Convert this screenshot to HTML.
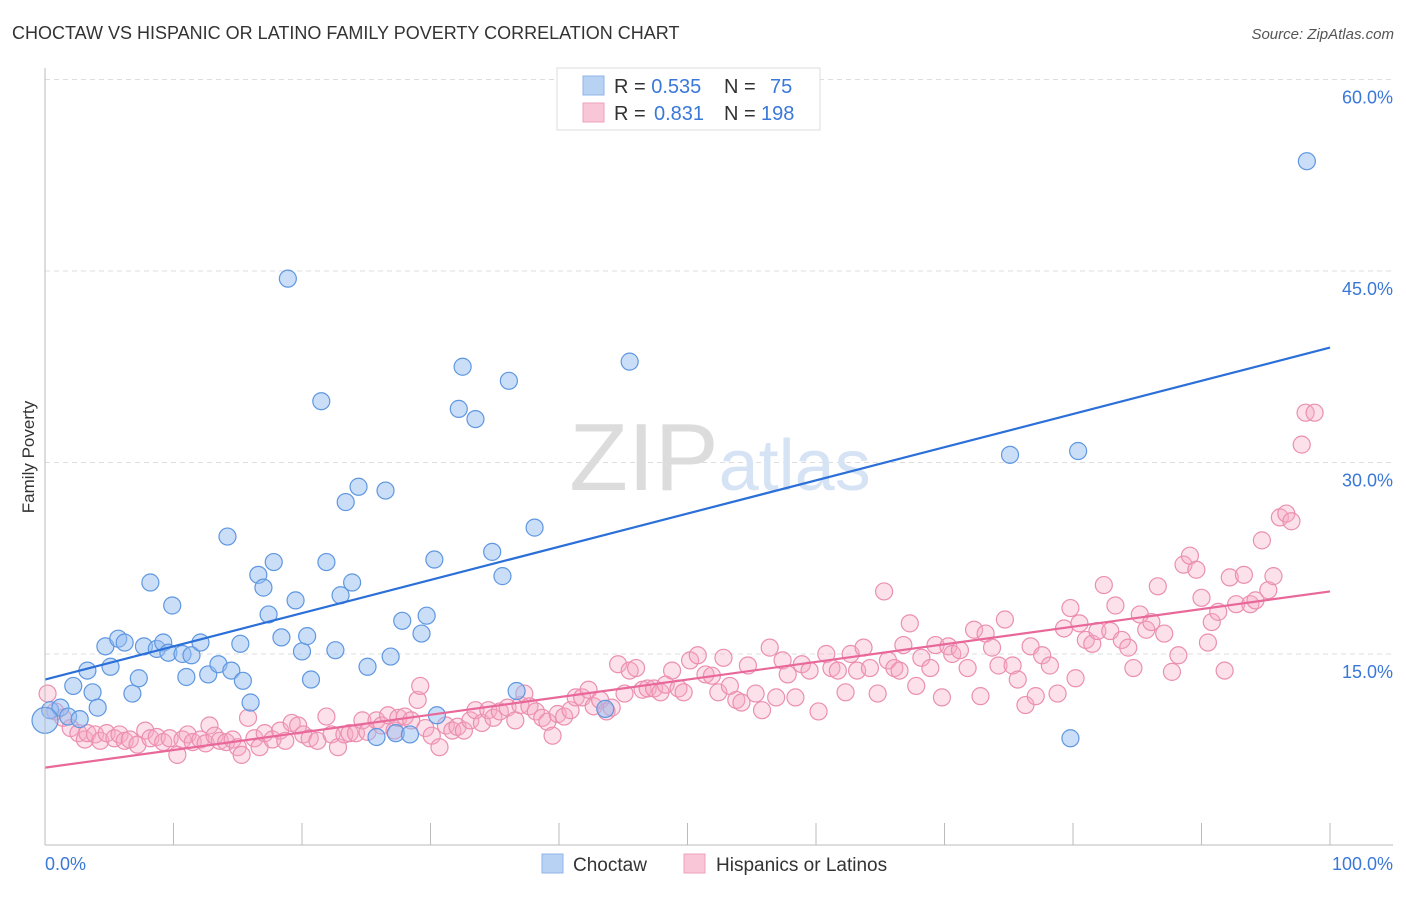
<!DOCTYPE html>
<html><head><meta charset="utf-8"><style>
body{margin:0;background:#fff;font-family:"Liberation Sans",sans-serif;}
svg text{font-family:"Liberation Sans",sans-serif;}
</style></head><body>
<svg id="chart" width="1406" height="892">
<text x="12" y="39" font-size="18" fill="#333">CHOCTAW VS HISPANIC OR LATINO FAMILY POVERTY CORRELATION CHART</text>
<text x="1394" y="39" font-size="15" fill="#555" font-style="italic" text-anchor="end">Source: ZipAtlas.com</text>
<text x="34" y="457" font-size="17" fill="#333" text-anchor="middle" transform="rotate(-90 34 457)">Family Poverty</text>
<g id="grid"></g>
<g id="yticks"></g>
<g id="xticks"></g>
<text x="720" y="490" font-size="96" fill="#e6e6e6" text-anchor="middle" font-family="Liberation Serif"><tspan fill="#dcdcdc">ZIP</tspan><tspan fill="#d5e3f5" font-family="Liberation Sans" font-size="72">atlas</tspan></text>
<g id="pink"></g>
<g id="blue"></g>
<g id="lines"></g>
<line x1="45" y1="845" x2="1393" y2="845" stroke="#bbb"/>
<line x1="45" y1="68" x2="45" y2="845" stroke="#bbb"/>
<text x="45" y="870" font-size="18" fill="#3a78d8">0.0%</text>
<text x="1393" y="870" font-size="18" fill="#3a78d8" text-anchor="end">100.0%</text>
<g>
<rect x="557" y="68" width="263" height="62" fill="#fff" stroke="#ddd"/>
<rect x="583" y="76" width="21" height="19" fill="#b8d2f4" stroke="#8fb4e8"/>
<rect x="583" y="103" width="21" height="19" fill="#f8c6d6" stroke="#eea2bc"/>
<text x="614" y="93" font-size="20" fill="#333">R = <tspan fill="#3a78d8">0.535</tspan><tspan x="724">N = </tspan><tspan x="770" fill="#3a78d8">75</tspan></text>
<text x="614" y="120" font-size="20" fill="#333">R = <tspan x="654" fill="#3a78d8">0.831</tspan><tspan x="724">N = </tspan><tspan x="761" fill="#3a78d8">198</tspan></text>
</g>
<g>
<rect x="542" y="854" width="21" height="19" fill="#b8d2f4" stroke="#8fb4e8"/>
<text x="573" y="871" font-size="19" fill="#333">Choctaw</text>
<rect x="684" y="854" width="21" height="19" fill="#f8c6d6" stroke="#eea2bc"/>
<text x="716" y="871" font-size="19" fill="#333">Hispanics or Latinos</text>
</g>
</svg>
<script>
const yTicks=[15,30,45,60];
const yTickLabels=["15.0%","30.0%","45.0%","60.0%"];
const xTicks=[0,10,20,30,40,50,60,70,80,90,100];
const blueX=[0.4,1.2,1.8,2.7,2.2,3.3,3.7,4.1,4.7,5.1,5.7,6.2,6.8,7.3,7.7,8.2,8.7,9.2,9.6,9.9,10.7,11.0,11.4,12.1,12.7,13.5,14.2,14.5,15.2,15.4,16.0,16.6,17.0,17.4,17.8,18.4,18.9,19.5,20.0,20.4,20.7,21.5,21.9,22.6,23.0,23.4,23.9,24.4,25.1,25.8,26.5,26.9,27.3,27.8,28.4,29.3,29.7,30.3,30.5,32.2,32.5,33.5,34.8,35.6,36.1,36.7,38.1,43.6,45.5,75.1,79.8,80.4,98.2,0];
const blueY=[10.6,10.8,10.1,9.9,12.5,13.7,12.0,10.8,15.6,14.0,16.2,15.9,11.9,13.1,15.6,20.6,15.4,15.9,15.1,18.8,15.0,13.2,14.9,15.9,13.4,14.2,24.2,13.7,15.8,12.9,11.2,21.2,20.2,18.1,22.2,16.3,44.4,19.2,15.2,16.4,13.0,34.8,22.2,15.3,19.6,26.9,20.6,28.1,14.0,8.5,27.8,14.8,8.8,17.6,8.7,16.6,18.0,22.4,10.2,34.2,37.5,33.4,23.0,21.1,36.4,12.1,24.9,10.7,37.9,30.6,8.4,30.9,53.6,9.8];
const pinkX=[0.2,0.8,1.4,2.0,2.6,3.1,3.3,3.9,4.3,4.8,5.4,5.8,6.2,6.6,7.2,7.8,8.2,8.7,9.2,9.7,10.3,10.7,11.1,11.5,12.1,12.5,12.8,13.2,13.6,14.1,14.6,15.0,15.3,15.8,16.3,16.7,17.1,17.7,18.3,18.7,19.2,19.7,20.1,20.6,21.2,21.9,22.3,22.8,23.3,23.7,24.2,24.7,25.1,25.8,26.2,26.7,27.2,27.5,28.0,28.5,29.0,29.2,29.6,30.1,30.7,31.2,31.7,32.1,32.6,33.1,33.5,34.0,34.5,34.9,35.4,36.0,36.6,37.0,37.3,37.7,38.2,38.7,39.1,39.5,39.9,40.4,40.9,41.3,41.8,42.3,42.7,43.2,43.7,44.1,44.6,45.1,45.5,46.0,46.5,46.9,47.4,47.9,48.3,48.8,49.3,49.7,50.2,50.8,51.4,51.9,52.4,52.8,53.3,53.8,54.2,54.7,55.3,55.8,56.4,56.9,57.4,57.8,58.4,58.9,59.5,60.2,60.8,61.2,61.7,62.3,62.7,63.2,63.7,64.2,64.8,65.3,65.6,66.1,66.5,66.8,67.3,67.8,68.2,68.9,69.3,69.8,70.3,70.6,71.2,71.8,72.3,72.8,73.2,73.7,74.2,74.7,75.3,75.7,76.3,76.7,77.1,77.6,78.2,78.8,79.3,79.8,80.2,80.5,81.0,81.5,81.9,82.4,82.9,83.3,83.8,84.3,84.7,85.2,85.7,86.1,86.6,87.1,87.7,88.2,88.6,89.1,89.6,90.0,90.5,90.8,91.3,91.8,92.2,92.7,93.3,93.8,94.2,94.7,95.2,95.6,96.1,96.6,97.0,97.8,98.1,98.8];
const pinkY=[11.9,10.5,10.0,9.2,8.8,8.3,8.8,8.7,8.2,8.8,8.4,8.7,8.2,8.3,7.9,9.0,8.4,8.5,8.1,8.4,7.1,8.3,8.7,8.1,8.3,8.0,9.4,8.6,8.2,8.1,8.3,7.7,7.1,10.0,8.4,7.7,8.8,8.3,9.0,8.2,9.6,9.4,8.7,8.4,8.2,10.1,8.7,7.7,8.7,8.8,8.8,9.8,8.9,9.8,9.4,10.2,9.0,10.0,10.1,9.8,11.4,12.5,9.2,8.6,7.7,9.4,9.0,9.3,9.0,9.8,10.6,9.6,10.6,10.0,10.5,10.8,9.8,11.0,11.9,10.9,10.5,10.0,9.7,8.6,10.3,10.1,10.6,11.6,11.6,12.2,10.9,11.4,10.5,10.8,14.2,11.9,13.7,13.9,12.2,12.3,12.3,12.0,12.6,13.7,12.3,12.0,14.5,14.9,13.4,13.3,12.0,14.7,12.5,11.4,11.2,14.1,11.9,10.6,15.5,11.6,14.5,13.4,11.6,14.2,13.7,10.5,15.0,13.9,13.7,12.0,15.0,13.7,15.5,13.9,11.9,19.9,14.5,13.9,13.7,15.7,17.4,12.5,14.7,13.9,15.7,11.6,15.6,15.0,15.3,13.9,16.9,11.7,16.6,15.5,14.1,17.7,14.1,13.0,11.0,15.6,11.7,14.9,14.1,11.9,17.0,18.6,13.1,17.4,16.1,15.8,16.8,20.4,16.8,18.8,16.1,15.5,13.9,18.1,16.9,17.5,20.3,16.6,13.6,14.9,22.0,22.7,21.6,19.4,15.9,17.5,18.3,13.7,21.0,18.9,21.2,18.9,19.2,23.9,20.0,21.1,25.7,26.0,25.4,31.4,33.9,33.9];
const blueTrend=[13.0,39.0];
const pinkTrend=[6.1,19.9];
const NS='http://www.w3.org/2000/svg';
const X0=45,X1=1330,Y0=845.5,YPER=191.5/15;
function sx(v){return X0+(X1-X0)*v/100;}
function sy(v){return Y0-v*YPER;}
function mk(tag,attrs,parent){const e=document.createElementNS(NS,tag);for(const k in attrs)e.setAttribute(k,attrs[k]);parent.appendChild(e);return e;}
const grid=document.getElementById('grid'),yt=document.getElementById('yticks'),xt=document.getElementById('xticks');
yTicks.forEach((t,i)=>{
  const l=mk('line',{x1:45,x2:1393,y1:sy(t),y2:sy(t),stroke:'#ddd','stroke-dasharray':'5,4'},grid);
  
  
  const tx=mk('text',{x:1393,y:sy(t)+24,'font-size':18,fill:'#3a78d8','text-anchor':'end'},yt);
  tx.textContent=yTickLabels[i];
  
  
});
xTicks.forEach(t=>{
  const l=mk('line',{x1:sx(t),x2:sx(t),y1:823,y2:845,stroke:'#bbb'},xt);
  
  
});
const pg=document.getElementById('pink');
pinkX.forEach((x,i)=>{
  const c=mk('circle',{cx:sx(x),cy:sy(pinkY[i]),r:8.5,fill:'rgba(246,170,196,0.35)',stroke:'#eb8fb0','stroke-width':1.2},pg);
  
  
});
const bg=document.getElementById('blue');
blueX.forEach((x,i)=>{
  const big=(x===0);
  const c=mk('circle',{cx:sx(x),cy:sy(blueY[i]),r:big?13:8.5,fill:'rgba(150,190,242,0.5)',stroke:'#5f97e0','stroke-width':1.2},bg);
  
  
});
const lg=document.getElementById('lines');
const bl=mk('line',{x1:sx(0),y1:sy(blueTrend[0]),x2:sx(100),y2:sy(blueTrend[1]),stroke:'#2b6fd8','stroke-width':2.2},lg);


const pl=mk('line',{x1:sx(0),y1:sy(pinkTrend[0]),x2:sx(100),y2:sy(pinkTrend[1]),stroke:'#e8689a','stroke-width':2.2},lg);


</script>
</body></html>
